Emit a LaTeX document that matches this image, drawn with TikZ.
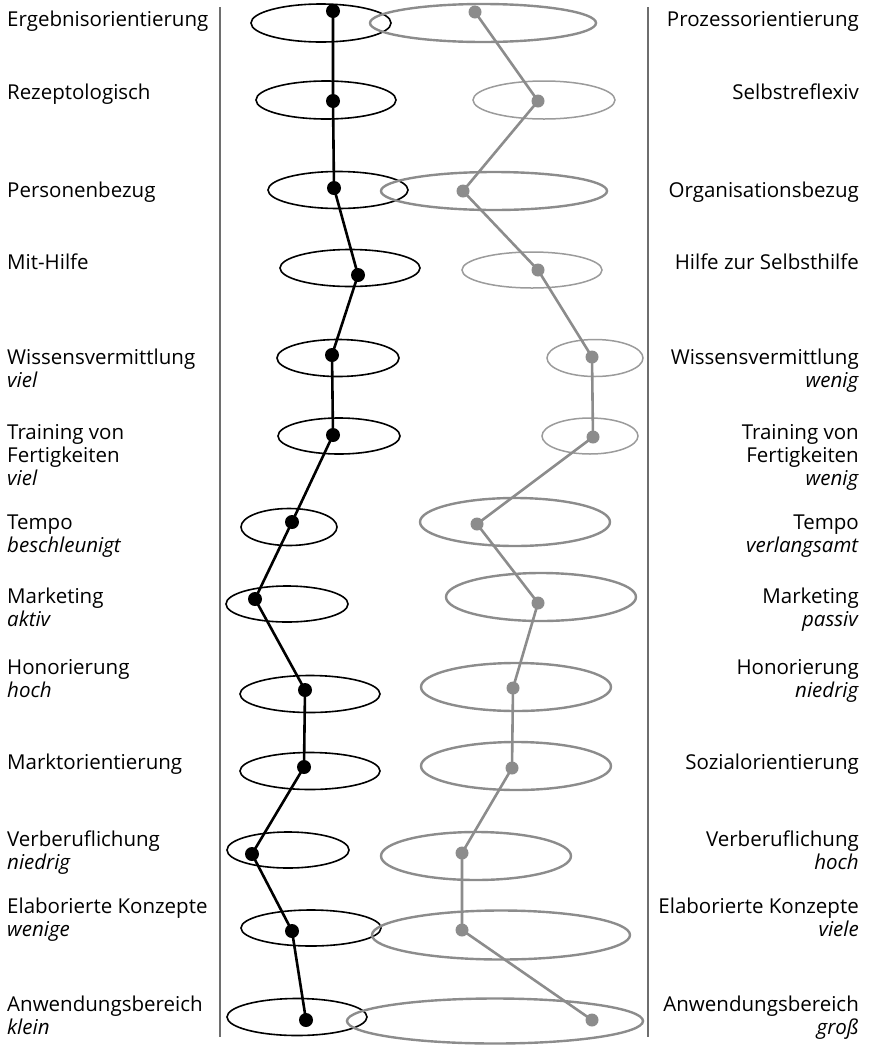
\documentclass[tikz,border=0pt]{standalone}
\usepackage{fontspec}
\setmainfont{Open Sans}
\usepackage{tikz}
\usetikzlibrary{calc}

\definecolor{pole}{RGB}{140,140,140}
\definecolor{polelight}{RGB}{155,155,155}
\definecolor{rule}{RGB}{110,110,110}

\begin{document}
\begin{tikzpicture}[
    x = 1pt, y = -1pt,
    labelfont/.style = {font = \fontsize{20.5}{23}\selectfont, inner sep = 0pt},
    leftlabel/.style = {labelfont, anchor = north west, align = left},
    rightlabel/.style = {labelfont, anchor = north east, align = right},
    blackring/.style = {draw = black, line width = 1.6pt},
    grayring/.style = {draw = pole, line width = 2.4pt},
    lightring/.style = {draw = polelight, line width = 1.5pt},
    blackline/.style = {draw = black, line width = 2.6pt, line join = round},
    grayline/.style = {draw = pole, line width = 2.6pt, line join = round},
    axis/.style = {draw = rule, line width = 1.6pt}
    ]

    \useasboundingbox (0, 0) rectangle (872, 1045);

    % left labels
    \node at (7, 11) [leftlabel, name = L1] {Ergebnisorientierung};
    \node at (7, 84) [leftlabel, name = L2] {Rezeptologisch};
    \node at (7, 182) [leftlabel, name = L3] {Personenbezug};
    \node at (7, 254) [leftlabel, name = L4] {Mit-Hilfe};
    \node at (7, 349) [leftlabel, name = L5] {Wissensvermittlung\\\textit{viel}};
    \node at (7, 424) [leftlabel, name = L6] {Training von\\Fertigkeiten\\\textit{viel}};
    \node at (7, 515) [leftlabel, name = L7] {Tempo\\\textit{beschleunigt}};
    \node at (7, 588) [leftlabel, name = L8] {Marketing\\\textit{aktiv}};
    \node at (7, 659) [leftlabel, name = L9] {Honorierung\\\textit{hoch}};
    \node at (7, 754) [leftlabel, name = L10] {Marktorientierung};
    \node at (7, 831) [leftlabel, name = L11] {Verberuflichung\\\textit{niedrig}};
    \node at (7, 898) [leftlabel, name = L12] {Elaborierte Konzepte\\\textit{wenige}};
    \node at (7, 996) [leftlabel, name = L13] {Anwendungsbereich\\\textit{klein}};

    % right labels
    \node at (859, 11) [rightlabel, name = R1] {Prozessorientierung};
    \node at (859, 84) [rightlabel, name = R2] {Selbstreflexiv};
    \node at (859, 182) [rightlabel, name = R3] {Organisationsbezug};
    \node at (859, 254) [rightlabel, name = R4] {Hilfe zur Selbsthilfe};
    \node at (859, 349) [rightlabel, name = R5] {Wissensvermittlung\\\textit{wenig}};
    \node at (859, 424) [rightlabel, name = R6] {Training von\\Fertigkeiten\\\textit{wenig}};
    \node at (859, 515) [rightlabel, name = R7] {Tempo\\\textit{verlangsamt}};
    \node at (859, 588) [rightlabel, name = R8] {Marketing\\\textit{passiv}};
    \node at (859, 659) [rightlabel, name = R9] {Honorierung\\\textit{niedrig}};
    \node at (859, 754) [rightlabel, name = R10] {Sozialorientierung};
    \node at (859, 831) [rightlabel, name = R11] {Verberuflichung\\\textit{hoch}};
    \node at (859, 898) [rightlabel, name = R12] {Elaborierte Konzepte\\\textit{viele}};
    \node at (859, 996) [rightlabel, name = R13] {Anwendungsbereich\\\textit{groß}};

    % separators
    \coordinate (axisLtop) at (220, 7);
    \coordinate (axisLbot) at (220, 1037);
    \coordinate (axisRtop) at (648, 7);
    \coordinate (axisRbot) at (648, 1037);
    \draw [axis] (axisLtop) -- (axisLbot);
    \draw [axis] (axisRtop) -- (axisRbot);

    % spread of the black profile
    \draw [blackring] (321, 23) ellipse [x radius = 70, y radius = 19];
    \draw [blackring] (326, 100) ellipse [x radius = 70, y radius = 19];
    \draw [blackring] (338, 190) ellipse [x radius = 70, y radius = 18.5];
    \draw [blackring] (350, 268) ellipse [x radius = 70, y radius = 18.5];
    \draw [blackring] (338, 358) ellipse [x radius = 61, y radius = 18.5];
    \draw [blackring] (339, 436) ellipse [x radius = 61, y radius = 18];
    \draw [blackring] (289, 527) ellipse [x radius = 48, y radius = 18.5];
    \draw [blackring] (287, 604) ellipse [x radius = 61, y radius = 18];
    \draw [blackring] (310, 694) ellipse [x radius = 70, y radius = 18.5];
    \draw [blackring] (310, 771) ellipse [x radius = 70, y radius = 18.5];
    \draw [blackring] (288, 850) ellipse [x radius = 61, y radius = 18];
    \draw [blackring] (311, 928) ellipse [x radius = 70, y radius = 18];
    \draw [blackring] (297, 1017) ellipse [x radius = 70, y radius = 18.5];

    % spread of the gray profile
    \draw [grayring] (483, 23) ellipse [x radius = 113, y radius = 19];
    \draw [lightring] (544, 100) ellipse [x radius = 71, y radius = 19];
    \draw [grayring] (494, 191) ellipse [x radius = 113, y radius = 19];
    \draw [lightring] (532, 270) ellipse [x radius = 70, y radius = 18];
    \draw [lightring] (595, 358) ellipse [x radius = 48, y radius = 18.5];
    \draw [lightring] (590, 436) ellipse [x radius = 48, y radius = 18];
    \draw [grayring] (515, 522) ellipse [x radius = 95, y radius = 24];
    \draw [grayring] (541, 597) ellipse [x radius = 95, y radius = 24];
    \draw [grayring] (516, 687) ellipse [x radius = 95, y radius = 24];
    \draw [grayring] (516, 766) ellipse [x radius = 95, y radius = 24];
    \draw [grayring] (476, 856) ellipse [x radius = 95, y radius = 24];
    \draw [grayring] (501, 935) ellipse [x radius = 129, y radius = 24.5];
    \draw [grayring] (495, 1021) ellipse [x radius = 148, y radius = 22.5];

    % profile points
    \coordinate (b1) at (333, 11);
    \coordinate (b2) at (333, 101);
    \coordinate (b3) at (334, 188);
    \coordinate (b4) at (358, 275);
    \coordinate (b5) at (332, 355);
    \coordinate (b6) at (333, 435);
    \coordinate (b7) at (292, 522);
    \coordinate (b8) at (255, 599);
    \coordinate (b9) at (305, 690);
    \coordinate (b10) at (304, 767);
    \coordinate (b11) at (252, 854);
    \coordinate (b12) at (292, 931);
    \coordinate (b13) at (306, 1020);

    \coordinate (g1) at (475, 12);
    \coordinate (g2) at (538, 101);
    \coordinate (g3) at (463, 191);
    \coordinate (g4) at (538, 270);
    \coordinate (g5) at (592, 357);
    \coordinate (g6) at (593, 437);
    \coordinate (g7) at (477, 524);
    \coordinate (g8) at (538, 603);
    \coordinate (g9) at (513, 688);
    \coordinate (g10) at (512, 768);
    \coordinate (g11) at (462, 853);
    \coordinate (g12) at (462, 930);
    \coordinate (g13) at (592, 1020);

    \draw [grayline] (g1) -- (g2) -- (g3) -- (g4) -- (g5) -- (g6) -- (g7)
      -- (g8) -- (g9) -- (g10) -- (g11) -- (g12) -- (g13);
    \draw [blackline] (b1) -- (b2) -- (b3) -- (b4) -- (b5) -- (b6) -- (b7)
      -- (b8) -- (b9) -- (b10) -- (b11) -- (b12) -- (b13);

    \foreach \i in {1,...,13} {
      \fill [pole] (g\i) circle [radius = 6.5];
      \fill [black] (b\i) circle [radius = 7];
    }

  \end{tikzpicture}
\end{document}
